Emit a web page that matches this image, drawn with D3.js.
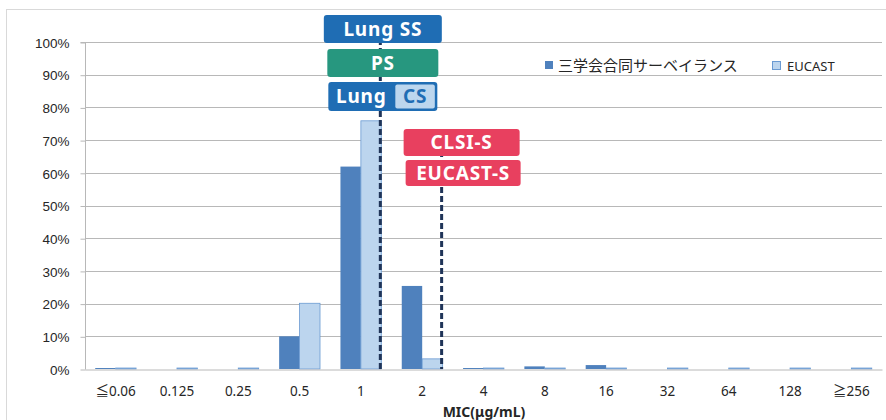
<!DOCTYPE html>
<html><head><meta charset="utf-8">
<script src="https://cdn.jsdelivr.net/npm/d3@7"></script>
<style>
html,body{margin:0;padding:0;background:#fff;}
svg{display:block;font-family:"Noto Sans","Open Sans",sans-serif;}
</style></head>
<body><svg id="c" width="886" height="420"></svg>
<script>
const categories = ["≦0.06","0.125","0.25","0.5","1","2","4","8","16","32","64","128","≧256"];
const surveyValues = [0.3,0,0,10,61.9,25.4,0.3,0.8,1.2,0,0,0,0];
const eucastValues = [0.3,0.3,0.3,20.1,75.9,3.1,0.3,0.3,0.3,0.3,0.3,0.3,0.3];
const seriesNames = ["三学会合同サーベイランス","EUCAST"];
const yTicks = [0,10,20,30,40,50,60,70,80,90,100];
const xTitle = "MIC(μg/mL)";
// breakpoint lines (drawn at right edge of the group of the given category)
const breakpoints = [
  {cat:"1", labels:[
    {text:"Lung SS", color:"#1f6db4"},
    {text:"PS", color:"#27977f"},
    {text:"Lung", sub:"CS", color:"#1f6db4"}]},
  {cat:"2", labels:[
    {text:"CLSI-S", color:"#e8405f"},
    {text:"EUCAST-S", color:"#e8405f"}]}
];

const svg = d3.select("#c");
const m = {left:85, right:882, top:42, bottom:369};
const colors = ["#4f81bd","#bcd5ee"];

// chart frame
svg.append("rect").attr("x",6.5).attr("y",9.5).attr("width",900).attr("height",430)
  .attr("fill","none").attr("stroke","#d9d9d9");

const x = d3.scaleBand().domain(categories).range([m.left,m.right]).paddingInner(0).paddingOuter(0);
const bw = x.bandwidth();
const gw = bw/1.5;
const x1 = d3.scaleBand().domain([0,1]).range([0,gw]);
const y = d3.scaleLinear().domain([0,100]).range([m.bottom,m.top]);

// gridlines
svg.append("g").selectAll("line").data(yTicks.filter(d=>d>0)).join("line")
  .attr("x1",m.left).attr("x2",m.right)
  .attr("y1",d=>Math.round(y(d))+0.5).attr("y2",d=>Math.round(y(d))+0.5)
  .attr("stroke","#b8b8b8").attr("stroke-width",1);

// y axis
const yAxis = d3.axisLeft(y).tickValues(yTicks).tickFormat(d=>d+"%").tickSize(5).tickPadding(11);
const gy = svg.append("g").attr("transform",`translate(${m.left+0.5},0.5)`).call(yAxis);
gy.select(".domain").attr("stroke","#b8b8b8").attr("d",`M-5,${m.top}H0V${m.bottom}`);
gy.selectAll(".tick line").attr("stroke","#b8b8b8");
gy.selectAll(".tick text").attr("fill","#262626").style("font-size","13.5px").attr("dy","0.35em");

// bars
const data = categories.map((c,i)=>({c, v:[surveyValues[i], eucastValues[i]]}));
const groups = svg.append("g").selectAll("g").data(data).join("g")
  .attr("transform",d=>`translate(${x(d.c)+(bw-gw)/2},0)`);
groups.selectAll("rect").data(d=>d.v.map((v,k)=>({v,k}))).join("rect")
  .attr("x",d=>x1(d.k)).attr("width",x1.bandwidth())
  .attr("y",d=>y(d.v)).attr("height",d=>y(0)-y(d.v))
  .attr("fill",d=>colors[d.k])
  .attr("stroke",d=>d.k===1?"#6a9ad2":"none").attr("stroke-width",0.8);

// x axis
const xAxis = d3.axisBottom(x).tickSize(0).tickPadding(17);
const gx = svg.append("g").attr("transform",`translate(0,${m.bottom+0.5})`).call(xAxis);
gx.select(".domain").attr("stroke","#b8b8b8");
gx.selectAll(".tick text").attr("fill","#262626").style("font-size","13.5px")
  .style("font-family","'Noto Sans','Noto Sans CJK JP',sans-serif");

svg.append("text").attr("x",484).attr("y",417)
  .attr("text-anchor","middle").attr("fill","#262626")
  .style("font-size","14px").style("font-weight","bold").text(xTitle);

// legend
const lg = svg.append("g").attr("transform","translate(545,61)");
lg.append("rect").attr("x",0).attr("y",0).attr("width",8).attr("height",8).attr("fill",colors[0]);
lg.append("text").attr("x",13).attr("y",10).style("font-size","15px")
  .style("font-family","'Noto Sans CJK JP',sans-serif").attr("fill","#262626").text(seriesNames[0]);
lg.append("rect").attr("x",227.5).attr("y",0.5).attr("width",8).attr("height",8)
  .attr("fill",colors[1]).attr("stroke","#6a9ad2");
lg.append("text").attr("x",242).attr("y",9.5).style("font-size","13px").attr("fill","#262626").text(seriesNames[1]);

// breakpoint lines and labels
const layouts = [
  {top:30, boxes:[{dx:2.5,w:118,y0:15,y1:43},{dx:2.5,w:111,y0:49,y1:77},{dx:2.5,w:109,y0:82,y1:111}]},
  {top:142, boxes:[{dx:20,w:116,y0:129,y1:156},{dx:21.5,w:115,y0:160,y1:186}]}
];
breakpoints.forEach((bp,i)=>{
  const lx = x(bp.cat)+(bw-gw)/2+gw-1;
  const L = layouts[i];
  svg.append("line").attr("x1",lx).attr("x2",lx).attr("y1",L.top).attr("y2",m.bottom)
    .attr("stroke","#1f3458").attr("stroke-width",3).attr("stroke-dasharray","6,3");
  bp.labels.forEach((lab,j)=>{
    const b = L.boxes[j];
    const cx = lx + b.dx;
    const g = svg.append("g");
    g.append("rect").attr("x",cx-b.w/2).attr("y",b.y0).attr("width",b.w).attr("height",b.y1-b.y0)
      .attr("rx",3).attr("fill",lab.color);
    const ty = (b.y0+b.y1)/2;
    if(lab.sub){
      g.append("rect").attr("x",cx-b.w/2+67).attr("y",b.y0+2.5).attr("width",b.w-69.5).attr("height",b.y1-b.y0-5)
        .attr("rx",2).attr("fill","#bcd6ee");
      g.append("text").attr("x",cx-b.w/2+33).attr("y",ty).attr("dy","0.36em").attr("text-anchor","middle")
        .attr("fill","#fff").style("font-size","19px").style("font-weight","bold").style("letter-spacing","0.8px").text(lab.text);
      g.append("text").attr("x",cx-b.w/2+67+(b.w-69.5)/2).attr("y",ty).attr("dy","0.36em").attr("text-anchor","middle")
        .attr("fill","#1f6db4").style("font-size","19px").style("font-weight","bold").style("letter-spacing","0.8px").text(lab.sub);
    } else {
      g.append("text").attr("x",cx).attr("y",ty).attr("dy","0.36em").attr("text-anchor","middle")
        .attr("fill","#fff").style("font-size","19px").style("font-weight","bold").style("letter-spacing","0.8px").text(lab.text);
    }
  });
});
</script></body></html>
